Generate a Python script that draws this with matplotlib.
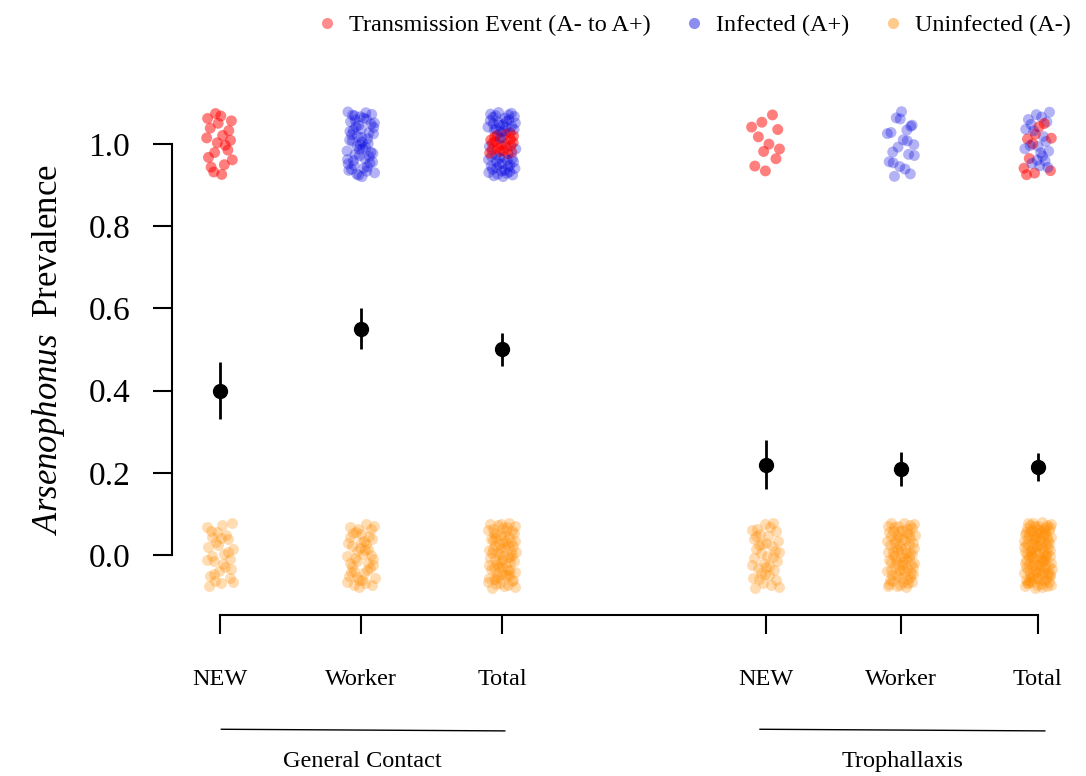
import numpy as np
import matplotlib
matplotlib.use("Agg")
import matplotlib.pyplot as plt
from matplotlib.lines import Line2D

plt.rcParams['font.family'] = ['Liberation Serif', 'DejaVu Serif']
plt.rcParams['mathtext.fontset'] = 'custom'
plt.rcParams['mathtext.rm'] = 'Liberation Serif'
plt.rcParams['mathtext.it'] = 'Liberation Serif:italic'

# one entry per column: 3 for general contact, 3 for trophallaxis
categories = ["NEW", "Worker", "Total", "NEW", "Worker", "Total"]
groups = ["General Contact", "Trophallaxis"]
xpos = [1, 2, 3, 4.87, 5.83, 6.8]

# number of bees in each state per column
n_transmission = [20, 0, 20, 11, 0, 11]
n_infected = [0, 55, 55, 0, 21, 21]
n_uninfected = [30, 45, 75, 39, 79, 118]

# prevalence and standard error
prevalence = [0.40, 0.55, 0.50, 0.22, 0.21, 0.213]
std_err = [0.069, 0.050, 0.041, 0.059, 0.041, 0.034]

RED = "#ff0000"
BLUE = "#0000e0"
ORANGE = "#ff8c00"


def halton(n, base, start=1):
    out = []
    for i in range(start, start + n):
        f, r, k = 1.0, 0.0, i
        while k > 0:
            f /= base
            r += f * (k % base)
            k //= base
        out.append(r)
    return np.array(out)


def jitter(n, start):
    # deterministic jitter in a box around each point
    dx = (halton(n, 2, start) - 0.5) * 0.2
    dy = (halton(n, 3, start) - 0.5) * 0.16
    return dx, dy


fig = plt.figure(figsize=(10.86, 7.76), dpi=100)
ax = fig.add_axes([172 / 1086, 1 - 615 / 776, (1060 - 172) / 1086, 515 / 776])

for i, x in enumerate(xpos):
    start = 7 + 37 * i
    # positives (transmission + infected), interleaved colours
    cols = [RED] * n_transmission[i] + [BLUE] * n_infected[i]
    alphas = [0.5] * n_transmission[i] + [0.3] * n_infected[i]
    npos = len(cols)
    if npos:
        order = np.argsort(halton(npos, 5, start))
        cols = [cols[j] for j in order]
        alphas = [alphas[j] for j in order]
        dx, dy = jitter(npos, start)
        rgba = [matplotlib.colors.to_rgba(c, a) for c, a in zip(cols, alphas)]
        ax.scatter(x + dx, 1 + dy, s=62, c=rgba, linewidths=0, zorder=2)
    dx, dy = jitter(n_uninfected[i], start + 200)
    ax.scatter(x + dx, 0 + dy, s=62, color=ORANGE, alpha=0.3, linewidths=0, zorder=2)

ax.errorbar(xpos, prevalence, yerr=std_err, fmt='o', color='black',
            markersize=10, elinewidth=2, capsize=0, zorder=3)

ax.set_xlim(0.66, 0.66 + (1060 - 172) / 141)
ax.set_ylim(-0.146, 1 + 44 / 411)

for side in ['top', 'right']:
    ax.spines[side].set_visible(False)
ax.spines['left'].set_bounds(0, 1)
ax.spines['bottom'].set_bounds(xpos[0], xpos[-1])
ax.spines['left'].set_linewidth(1.5)
ax.spines['bottom'].set_linewidth(1.5)

ax.set_yticks([0, 0.2, 0.4, 0.6, 0.8, 1.0])
ax.set_yticklabels(["0.0", "0.2", "0.4", "0.6", "0.8", "1.0"])
ax.tick_params(axis='y', length=14, width=1.5, pad=16, labelsize=24)
ax.set_xticks(xpos)
ax.set_xticklabels(categories)
ax.tick_params(axis='x', length=14, width=1.5, pad=25, labelsize=17.5)

ax.set_ylabel(r'$\mathit{Arsenophonus}\ \ $Prevalence', fontsize=25)
ax.yaxis.set_label_coords(-0.118, 0.515)

# group brackets under the axis
ax.plot([1.01, 3.02], [-0.424, -0.428], color='black', lw=1, clip_on=False)
ax.plot([4.83, 6.85], [-0.424, -0.428], color='black', lw=1, clip_on=False)
ax.text(2.01, -0.502, groups[0], ha='center', va='center', fontsize=17.5)
ax.text(5.84, -0.502, groups[1], ha='center', va='center', fontsize=17.5)

handles = [
    Line2D([], [], ls='', marker='o', markersize=8, markeredgewidth=0,
           color=RED, alpha=0.45, label="Transmission Event (A- to A+)"),
    Line2D([], [], ls='', marker='o', markersize=8, markeredgewidth=0,
           color=BLUE, alpha=0.45, label="Infected (A+)"),
    Line2D([], [], ls='', marker='o', markersize=8, markeredgewidth=0,
           color=ORANGE, alpha=0.45, label="Uninfected (A-)"),
]
fig.legend(handles=handles, loc='upper right', bbox_to_anchor=(1.006, 1.01),
           ncol=3, frameon=False, fontsize=17.5, handlelength=1,
           handletextpad=0.4, columnspacing=1.3)

fig.savefig("out.png", dpi=100)
